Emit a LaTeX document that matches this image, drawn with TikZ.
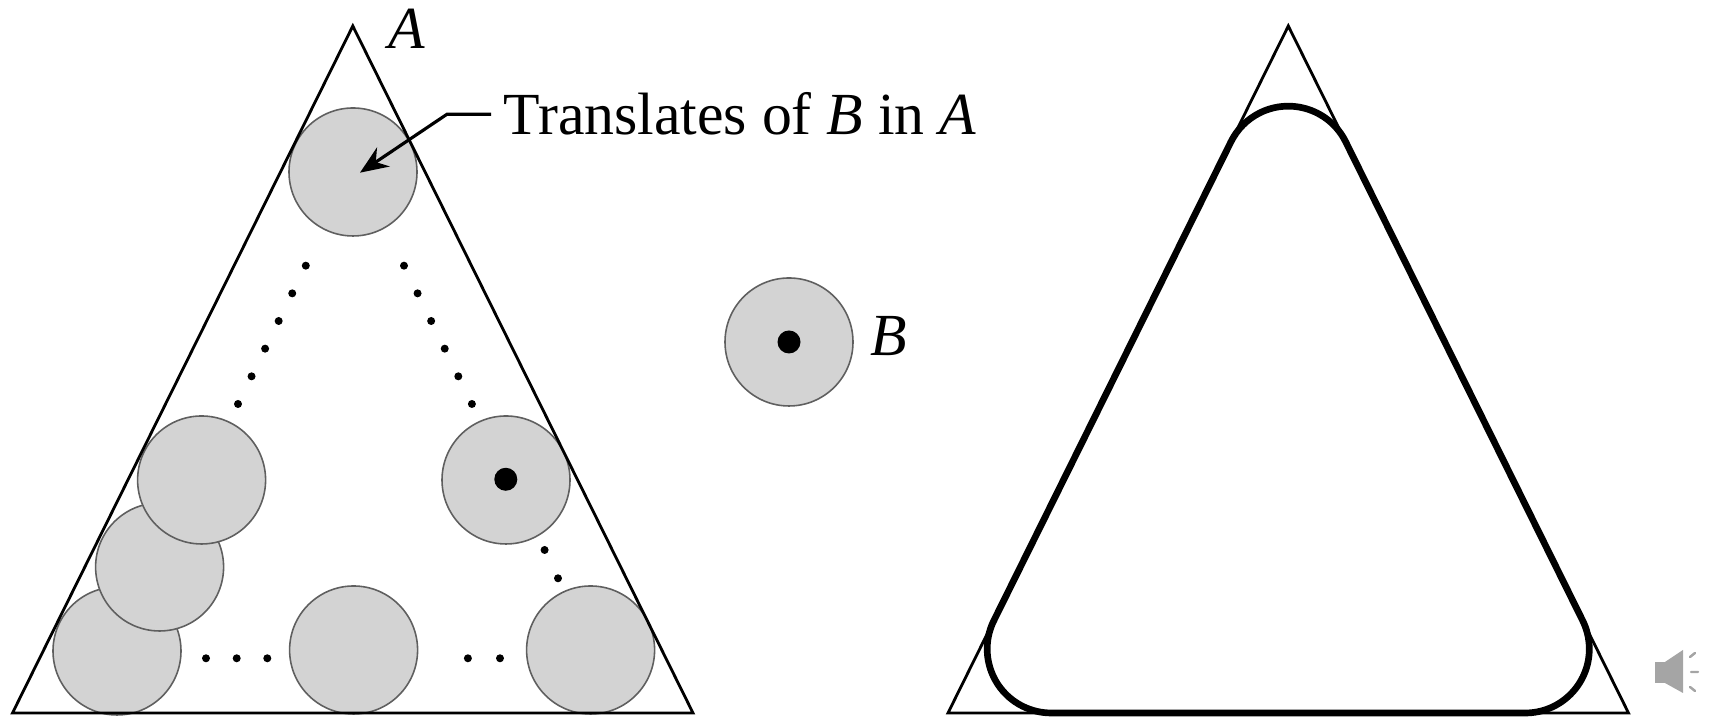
\documentclass[tikz,border=0pt]{standalone}
\usepackage{fontspec}
\setmainfont{Liberation Serif}
\usepackage{tikz}
\usetikzlibrary{arrows.meta}
\definecolor{piecegray}{RGB}{211,211,211}
\definecolor{rimgray}{RGB}{95,95,95}
\definecolor{icongray}{RGB}{165,165,165}

\begin{document}
\begin{tikzpicture}[
  x=1cm, y=1cm,
  tri/.style={draw=black, line width=0.8pt, line join=miter},
  opened/.style={draw=black, line width=1.9pt},
  piece/.style={fill=piecegray, draw=rimgray, line width=0.45pt},
  trail/.style={fill=black},
  pointer/.style={-{Stealth[length=8pt,width=6.5pt]}, line width=0.9pt},
  lbl/.style={font=\fontsize{17}{20}\selectfont, inner sep=0pt}]

  \useasboundingbox (0,0) rectangle (17.17,7.17);

  % ---------- translates of B inside A ----------
  \fill[piece] (1.17,0.66)  circle (0.64);
  \fill[piece] (1.596,1.50) circle (0.64);
  \fill[piece] (2.016,2.37) circle (0.64);
  \fill[piece] (3.53,5.45)  circle (0.64);
  \fill[piece] (5.06,2.37)  circle (0.64);
  \fill[piece] (3.536,0.67) circle (0.64);
  \fill[piece] (5.906,0.67) circle (0.64);
  \fill[black] (5.058,2.377) circle (0.115);

  % dotted trails of the centre
  \foreach \i in {0,...,5} {
    \fill[trail] ({3.058-0.1356*\i},{4.513-0.2766*\i}) circle (0.04);
    \fill[trail] ({4.040+0.1358*\i},{4.513-0.2766*\i}) circle (0.04);
  }
  \foreach \p in {(5.446,1.67),(5.58,1.387),(2.06,0.587),(2.367,0.587),(2.673,0.587),(4.679,0.587),(5.00,0.587)}
    \fill[trail] \p circle (0.04);

  % set A
  \draw[tri] (3.528,6.91) -- (0.125,0.04) -- (6.93,0.04) -- cycle;
  \node[lbl, anchor=center] (labA) at (4.07,6.88) {\textit{A}};

  % label and pointer
  \node[lbl, anchor=base west, inner xsep=1.2mm] (transl) at (4.91,5.82)
    {Translates of \textit{B} in \textit{A}};
  \coordinate (tip) at (3.60,5.443);
  \draw[pointer] (transl.west) -- ++(-0.44,0) -- (tip);

  % ---------- structuring element B ----------
  \fill[piece] (7.89,3.75) circle (0.64);
  \fill[black] (7.89,3.75) circle (0.115);
  \node[lbl, anchor=west] (labB) at (8.70,3.81) {\textit{B}};

  % ---------- opening of A by B ----------
  \draw[tri] (12.883,6.91) -- (9.48,0.04) -- (16.285,0.04) -- cycle;
  \draw[opened] (13.4565,5.7521) arc[start angle=26.35, end angle=153.65, radius=0.64]
    -- (9.9385,0.9641) arc[start angle=153.65, end angle=270, radius=0.64]
    -- (15.253,0.04) arc[start angle=270, end angle=386.35, radius=0.64]
    -- cycle;

  % speaker icon
  \fill[icongray] (16.55,0.34) rectangle (16.65,0.55);
  \fill[icongray] (16.65,0.55) -- (16.83,0.67) -- (16.83,0.24) -- (16.65,0.34) -- cycle;
  \draw[icongray, line width=0.7pt, line cap=round]
    (16.90,0.60) -- (16.95,0.64)
    (16.91,0.45) -- (16.98,0.45)
    (16.90,0.30) -- (16.95,0.26);
\end{tikzpicture}
\end{document}
